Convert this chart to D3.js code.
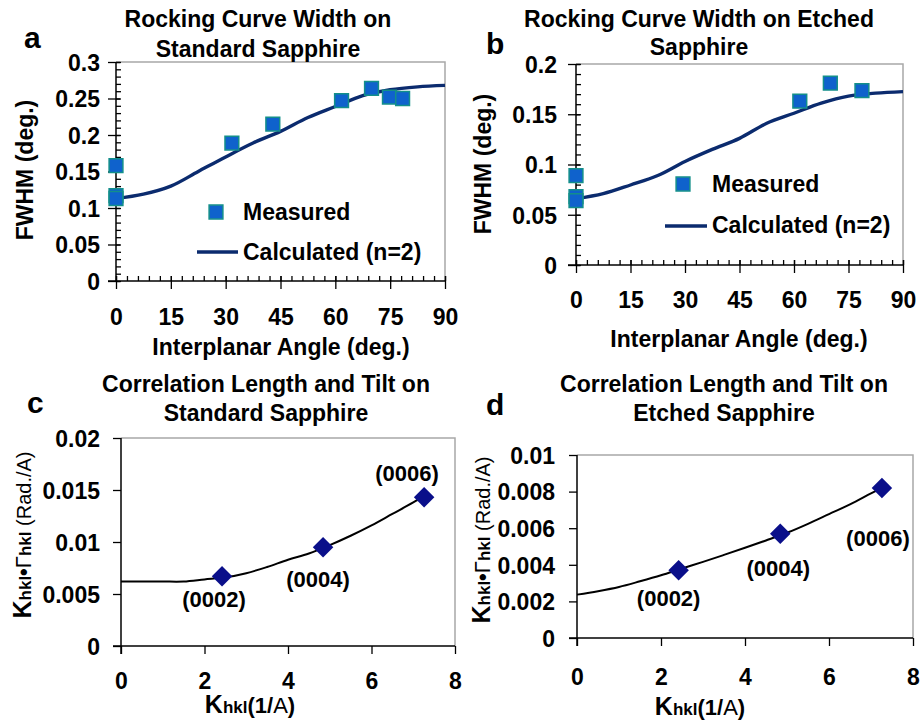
<!DOCTYPE html>
<html>
<head>
<meta charset="utf-8">
<title>Rocking curve and correlation length</title>
<script src="https://d3js.org/d3.v7.min.js"></script>
<style>
  body { margin: 0; background: #fff; }
  text { font-family: "Liberation Sans", Arial, sans-serif; font-weight: bold; fill: #000; }
</style>
</head>
<body>
<div id="chart"></div>
<script>
// ---- data ----
// (a) standard sapphire, rocking curve width
var angleMeasA = [0, 0, 0, 31.7, 42.9, 61.7, 69.9, 74.8, 78.4];
var fwhmMeasA  = [0.158, 0.117, 0.113, 0.189, 0.215, 0.247, 0.264, 0.252, 0.250];
var angleCalc  = [0, 7.5, 15, 22.5, 30, 37.5, 45, 52.5, 60, 67.5, 75, 82.5, 90];
var fwhmCalcA  = [0.113, 0.119, 0.130, 0.150, 0.170, 0.189, 0.205, 0.224, 0.239, 0.254, 0.262, 0.266, 0.268];
// (b) etched sapphire
var angleMeasB = [0, 0, 0, 61.6, 70.0, 78.7];
var fwhmMeasB  = [0.089, 0.068, 0.064, 0.163, 0.181, 0.1735];
var fwhmCalcB  = [0.066, 0.071, 0.0796, 0.089, 0.103, 0.115, 0.126, 0.141, 0.151, 0.161, 0.168, 0.171, 0.1725];
// (c), (d) correlation length and tilt
var reflections = ["(0002)", "(0004)", "(0006)"];
var kMeas  = [2.42, 4.84, 7.26];
var corrC  = [0.0067, 0.0095, 0.0143];
var corrD  = [0.0037, 0.0057, 0.0082];
var kFit   = [0, 0.5, 1, 1.5, 2, 2.5, 3, 3.5, 4, 4.5, 5, 5.5, 6, 6.5, 7, 7.3];
var fitC   = [0.0062, 0.0062, 0.0062, 0.0062, 0.0064, 0.0066, 0.0070, 0.0076, 0.0083, 0.0089, 0.0097, 0.0106, 0.0116, 0.0127, 0.0138, 0.0145];
var fitD   = [0.00237, 0.00256, 0.00279, 0.0031, 0.00343, 0.0038, 0.00416, 0.00454, 0.00493, 0.00533, 0.00575, 0.00624, 0.00677, 0.0073, 0.0079, 0.00825];

// tick values
var angleTicks = [0, 15, 30, 45, 60, 75, 90];
var fwhmTicksA = [0, 0.05, 0.1, 0.15, 0.2, 0.25, 0.3];
var fwhmTicksB = [0, 0.05, 0.1, 0.15, 0.2];
var kTicks     = [0, 2, 4, 6, 8];
var corrTicksC = [0, 0.005, 0.01, 0.015, 0.02];
var corrTicksD = [0, 0.002, 0.004, 0.006, 0.008, 0.01];

var width = 920, height = 720;
var fs = 23;
var svg = d3.select("#chart").append("svg")
    .attr("width", width)
    .attr("height", height);

var fmt = d3.format("~g");

function drawPanel(cfg) {
    var x = d3.scaleLinear().domain(cfg.xDomain).range([cfg.left, cfg.right]);
    var y = d3.scaleLinear().domain(cfg.yDomain).range([cfg.bottom, cfg.top]);

    // plot area frame (top + right, grey)
    svg.append("path")
        .attr("d", "M" + cfg.left + "," + cfg.top + "H" + cfg.right + "V" + cfg.bottom)
        .attr("fill", "none")
        .attr("stroke", "#a8a8a8")
        .attr("stroke-width", 1.5);

    // minor ticks (inside)
    if (cfg.xMinor) {
        svg.append("g")
            .attr("transform", "translate(0," + cfg.bottom + ")")
            .call(d3.axisBottom(x).tickValues(cfg.xMinor).tickSize(-5).tickFormat(""))
            .call(g => g.select(".domain").remove())
            .selectAll("line").attr("stroke", "#000").attr("stroke-width", 1.3);
        svg.append("g")
            .attr("transform", "translate(" + cfg.left + ",0)")
            .call(d3.axisLeft(y).tickValues(cfg.yMinor).tickSize(-5).tickFormat(""))
            .call(g => g.select(".domain").remove())
            .selectAll("line").attr("stroke", "#000").attr("stroke-width", 1.3);
    }

    // x axis
    var gx = svg.append("g")
        .attr("transform", "translate(0," + cfg.bottom + ")")
        .call(d3.axisBottom(x).tickValues(cfg.xTicks).tickSize(8).tickSizeOuter(0).tickFormat(fmt));
    gx.select(".domain").attr("stroke", "#000").attr("stroke-width", 1.5)
        .attr("d", "M" + (cfg.left - 8) + ",0H" + cfg.right);
    gx.selectAll(".tick line").attr("stroke", "#000").attr("stroke-width", 1.3)
        .attr("y1", cfg.cross ? -5 : 0);
    gx.selectAll("text")
        .attr("y", cfg.xLabelY - cfg.bottom).attr("dy", null)
        .attr("font-size", fs).attr("font-family", null).attr("fill", "#000");

    // y axis
    var gy = svg.append("g")
        .attr("transform", "translate(" + cfg.left + ",0)")
        .call(d3.axisLeft(y).tickValues(cfg.yTicks).tickSize(8).tickSizeOuter(0).tickFormat(fmt));
    gy.select(".domain").attr("stroke", "#000").attr("stroke-width", 1.5)
        .attr("d", "M0," + cfg.top + "V" + (cfg.bottom + (cfg.cross ? 0 : 8)));
    gy.selectAll(".tick line").attr("stroke", "#000").attr("stroke-width", 1.3)
        .attr("x1", cfg.cross ? 4 : 0);
    gy.selectAll("text")
        .attr("x", cfg.yLabelX - cfg.left).attr("dy", "0.36em")
        .attr("font-size", fs).attr("font-family", null).attr("fill", "#000");

    // titles
    cfg.title.forEach(function(t, i) {
        svg.append("text")
            .attr("x", cfg.titleX).attr("y", cfg.titleY[i])
            .attr("text-anchor", "middle").attr("font-size", fs)
            .text(t);
    });
    svg.append("text")
        .attr("x", cfg.letterX).attr("y", cfg.letterY)
        .attr("font-size", 30)
        .text(cfg.letter);

    return { x: x, y: y };
}

// ----- panel a -----
var pa = drawPanel({
    letter: "a", letterX: 24, letterY: 48,
    title: ["Rocking Curve Width on", "Standard Sapphire"], titleX: 258, titleY: [27, 57],
    left: 116, right: 445, top: 62, bottom: 281,
    xDomain: [0, 90], yDomain: [0, 0.3],
    xTicks: angleTicks, yTicks: fwhmTicksA,
    xMinor: d3.range(0, 90.01, 3), yMinor: d3.range(0, 0.3001, 0.01),
    cross: true, xLabelY: 325, yLabelX: 100
});
// ----- panel b -----
var pb = drawPanel({
    letter: "b", letterX: 486, letterY: 54,
    title: ["Rocking Curve Width on Etched", "Sapphire"], titleX: 699, titleY: [27, 55],
    left: 576, right: 903, top: 64, bottom: 265,
    xDomain: [0, 90], yDomain: [0, 0.2],
    xTicks: angleTicks, yTicks: fwhmTicksB,
    xMinor: d3.range(0, 90.01, 3), yMinor: d3.range(0, 0.2001, 0.01),
    cross: true, xLabelY: 308, yLabelX: 557
});
// ----- panel c -----
var pc = drawPanel({
    letter: "c", letterX: 27, letterY: 413,
    title: ["Correlation Length and Tilt on", "Standard Sapphire"], titleX: 266, titleY: [392, 421],
    left: 121, right: 455, top: 438, bottom: 646,
    xDomain: [0, 8], yDomain: [0, 0.02],
    xTicks: kTicks, yTicks: corrTicksC,
    cross: false, xLabelY: 689, yLabelX: 100
});
// ----- panel d -----
var pd = drawPanel({
    letter: "d", letterX: 486, letterY: 415,
    title: ["Correlation Length and Tilt on", "Etched Sapphire"], titleX: 724, titleY: [392, 421],
    left: 577, right: 913, top: 455, bottom: 638,
    xDomain: [0, 8], yDomain: [0, 0.01],
    xTicks: kTicks, yTicks: corrTicksD,
    cross: false, xLabelY: 685, yLabelX: 555
});

// axis titles
function xTitle(text, cx, cy) {
    svg.append("text").attr("x", cx).attr("y", cy)
        .attr("text-anchor", "middle").attr("font-size", fs).text(text);
}
function yTitle(text, cx, cy) {
    svg.append("text").attr("transform", "translate(" + cx + "," + cy + ") rotate(-90)")
        .attr("text-anchor", "middle").attr("font-size", fs).text(text);
}
xTitle("Interplanar Angle (deg.)", 281, 355);
xTitle("Interplanar Angle (deg.)", 739, 347);
yTitle("FWHM (deg.)", 33, 170);
yTitle("FWHM (deg.)", 491, 164);

function kTitle(cx, cy) {
    var t = svg.append("text").attr("x", cx).attr("y", cy).attr("text-anchor", "middle");
    t.append("tspan").attr("font-size", 25).text("K");
    t.append("tspan").attr("font-size", 17).text("hkl");
    t.append("tspan").attr("font-size", 22).text("(1/");
    t.append("tspan").attr("font-size", 22).attr("font-weight", "normal").text("A");
    t.append("tspan").attr("font-size", 22).text(")");
}
kTitle(250, 713);
kTitle(700, 715);

function corrTitle(cx, cy) {
    var t = svg.append("text")
        .attr("transform", "translate(" + cx + "," + cy + ") rotate(-90)")
        .attr("text-anchor", "middle");
    t.append("tspan").attr("font-size", 25).text("K");
    t.append("tspan").attr("font-size", 17).text("hkl");
    t.append("tspan").attr("font-size", 22).text("\u2022");
    t.append("tspan").attr("font-size", 22).attr("font-weight", "normal").text("\u0393");
    t.append("tspan").attr("font-size", 17).text("hkl");
    t.append("tspan").attr("font-size", 20).attr("font-weight", "normal").text(" (Rad./A)");
}
corrTitle(31, 535);
corrTitle(490, 540);

// ---- marks ----
var navy = "#0b2b6e";
var line = d3.line().curve(d3.curveCatmullRom);

function calcLine(p, xs, ys, color, w) {
    svg.append("path")
        .datum(xs.map(function(v, i) { return [p.x(v), p.y(ys[i])]; }))
        .attr("d", line)
        .attr("fill", "none")
        .attr("stroke", color)
        .attr("stroke-width", w);
}
function squares(p, xs, ys) {
    svg.append("g").selectAll("path")
        .data(xs.map(function(v, i) { return [v, ys[i]]; }))
        .join("path")
        .attr("d", d3.symbol(d3.symbolSquare).size(190))
        .attr("transform", function(d) { return "translate(" + p.x(d[0]) + "," + p.y(d[1]) + ")"; })
        .attr("fill", "#0f62cc")
        .attr("stroke", "#138f8a")
        .attr("stroke-width", 1.5);
}
calcLine(pa, angleCalc, fwhmCalcA, navy, 3.4);
squares(pa, angleMeasA, fwhmMeasA);
calcLine(pb, angleCalc, fwhmCalcB, navy, 3.4);
squares(pb, angleMeasB, fwhmMeasB);

function legend(sx, sy, lx0, lx1, ly, tx, t1y, t2y) {
    svg.append("path").attr("d", d3.symbol(d3.symbolSquare).size(190))
        .attr("transform", "translate(" + sx + "," + sy + ")")
        .attr("fill", "#0f62cc").attr("stroke", "#138f8a").attr("stroke-width", 1.5);
    svg.append("line").attr("x1", lx0).attr("x2", lx1).attr("y1", ly).attr("y2", ly)
        .attr("stroke", navy).attr("stroke-width", 3.4);
    svg.append("text").attr("x", tx).attr("y", t1y).attr("font-size", fs).text("Measured");
    svg.append("text").attr("x", tx).attr("y", t2y).attr("font-size", fs).text("Calculated (n=2)");
}
legend(216, 212, 197, 238, 252, 243, 220, 260);
legend(683, 184, 665, 707, 226, 712, 192, 233);

function diamonds(p, ys, fitY, offsets) {
    calcLine(p, kFit, fitY, "#000", 2);
    svg.append("g").selectAll("path")
        .data(kMeas.map(function(v, i) { return [v, ys[i]]; }))
        .join("path")
        .attr("d", d3.symbol(d3.symbolSquare).size(210))
        .attr("transform", function(d) { return "translate(" + p.x(d[0]) + "," + p.y(d[1]) + ") rotate(45)"; })
        .attr("fill", "#0a0f8a");
    reflections.forEach(function(r, i) {
        svg.append("text")
            .attr("x", p.x(kMeas[i]) + offsets[i][0])
            .attr("y", p.y(ys[i]) + offsets[i][1])
            .attr("text-anchor", "middle").attr("font-size", 22)
            .text(r);
    });
}
diamonds(pc, corrC, fitC, [[-8, 31], [-5, 40], [-17, -16]]);
diamonds(pd, corrD, fitD, [[-10, 36], [-2, 42], [-4, 58]]);
</script>
</body>
</html>
